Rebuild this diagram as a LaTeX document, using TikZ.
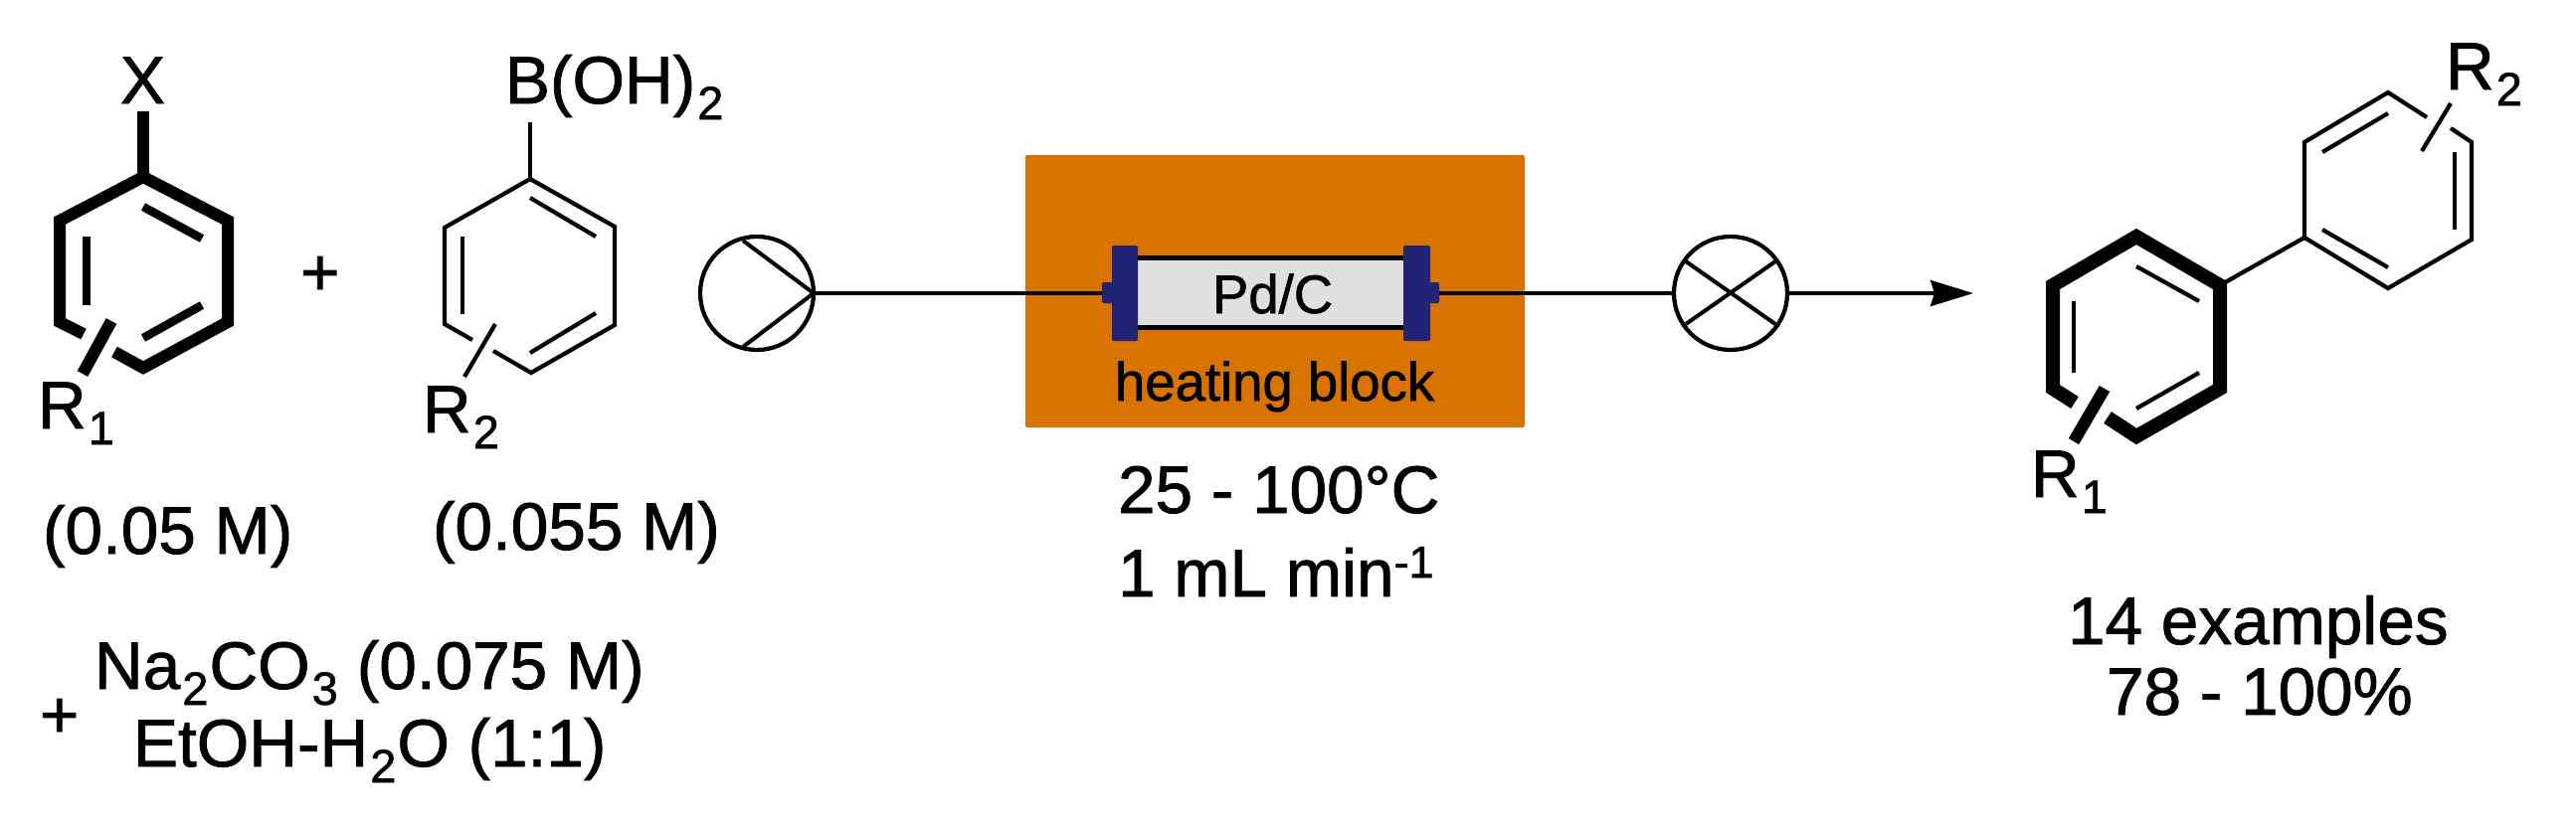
\documentclass[tikz,border=0pt]{standalone}
\usepackage{fontspec}
\setmainfont{Liberation Sans}[FakeBold=1.2]
\usetikzlibrary{arrows.meta}
\newcommand{\sbt}[1]{\kern2bp{\fontsize{47bp}{47bp}\selectfont\raisebox{-16bp}{#1}}\kern1bp}
\newcommand{\spt}[1]{{\fontsize{45bp}{45bp}\selectfont\raisebox{19bp}{#1}}}
\definecolor{blockor}{HTML}{D87300}
\definecolor{navyfl}{HTML}{232375}
\definecolor{tubegr}{HTML}{E0E0E0}
\tikzset{
  txt/.style={anchor=base west,inner sep=0pt,outer sep=0pt,font=\fontsize{67.5bp}{67.5bp}\selectfont},
  smalltxt/.style={txt,font=\fontsize{54.5bp}{54bp}\selectfont},
  thin bond/.style={line width=4.2bp,line join=miter,miter limit=10},
  bold bond/.style={line width=12bp,line join=miter,miter limit=10},
  bold inner/.style={line width=8.5bp},
  flow/.style={line width=4bp},
  unit/.style={circle,draw,line width=4.2bp,minimum size=114bp,inner sep=0pt,outer sep=0pt},
  flange/.style={fill=navyfl,rounded corners=2bp},
}
\begin{document}
\begin{tikzpicture}[x=1bp,y=-1bp]
\useasboundingbox (0,0) rectangle (2590,834);
% reactant 1
\draw[bold bond] (84,336) -- (60,324) -- (60,222) -- (144,178) -- (229,222) -- (229,324) -- (144,370) -- (115,354);
\draw[bold bond] (144,112) -- (144,178);
\draw[bold inner] (144,208) -- (203,240);
\draw[bold inner] (87,238) -- (87,307);
\draw[bold inner] (144,340) -- (203,307);
\draw[bold bond] (112,323) -- (83,376);
\node[txt] (x1) at (121,104) {X};
\node[txt] (r1a) at (38,431) {R\sbt{1}};
\node[txt] (plus1) at (302,297) {+};
% reactant 2
\draw[thin bond] (475,342) -- (447,326) -- (447,229) -- (533,180) -- (618,228) -- (618,327) -- (534,375) -- (496,353);
\draw[thin bond] (533,123) -- (533,180);
\draw[thin bond] (533,199) -- (599,238);
\draw[thin bond] (465,238) -- (465,316);
\draw[thin bond] (533,355) -- (599,315);
\draw[thin bond] (498,326) -- (467,379);
\node[txt] (boh) at (508,104) {B(OH)\sbt{2}};
\node[txt] (r2a) at (425,435) {R\sbt{2}};
\node[txt] (c1) at (43,557) {(0.05 M)};
\node[txt] (c2) at (435,553) {(0.055 M)};
\node[txt] (plus2) at (40,742) {+};
\node[txt] (na) at (95,693) {Na\sbt{2}CO\sbt{3}\kern18bp(0.075 M)};
\node[txt] (et) at (134,771) {EtOH-H\sbt{2}O (1:1)};
% heating block and reactor
\fill[blockor,rounded corners=2bp] (1031,156) rectangle (1533,430);
\fill[tubegr] (1144,260) rectangle (1411,329);
\fill[black] (1144,257) rectangle (1411,262);
\fill[black] (1144,327) rectangle (1411,332);
\fill[flange] (1118,247) rectangle (1144,343);
\fill[flange] (1411,247) rectangle (1438,343);
\fill[flange] (1108,284) rectangle (1119,305);
\fill[flange] (1437,284) rectangle (1447,305);
\coordinate (rin) at (1108,295);
\coordinate (rout) at (1447,295);
\node[smalltxt] (pd) at (1219,315) {Pd/C};
\node[smalltxt] (hb) at (1121,403) {heating block};
\node[txt] (temp) at (1124,516) {25 - 100°C};
\node[txt] (rate) at (1124,600) {1 mL min\spt{-1}};
% pump, detector, flow lines
\node[unit] (pump) at (761,295) {};
\node[unit] (det) at (1740,295) {};
\coordinate (tip) at (1984,295);
\draw[flow] (747,242) -- (pump.east) -- (747,349);
\draw[flow] (pump.east) -- (rin);
\draw[flow] (rout) -- (det.west);
\draw[flow] (1695,263) -- (1785,326);
\draw[flow] (1695,326) -- (1785,263);
\draw[flow,-{Stealth[length=43bp,width=26bp,inset=4bp]}] (det.east) -- (tip);
% product
\draw[line width=14bp,line join=miter,miter limit=10] (2086,405) -- (2064,391) -- (2064,287) -- (2148,238) -- (2232,287) -- (2232,391) -- (2148,439) -- (2119,420);
\draw[thin bond] (2148,268) -- (2211,303);
\draw[thin bond] (2085,303) -- (2085,375);
\draw[thin bond] (2148,411) -- (2211,375);
\draw[bold bond] (2116,391) -- (2085,444);
\draw[thin bond] (2232,287) -- (2317,239);
\draw[thin bond] (2440,118) -- (2401,93) -- (2317,143) -- (2317,239) -- (2401,290) -- (2485,241) -- (2485,143) -- (2464,129);
\draw[thin bond] (2335,153) -- (2401,114);
\draw[thin bond] (2468,153) -- (2468,231);
\draw[thin bond] (2335,231) -- (2401,269);
\draw[thin bond] (2464,104) -- (2435,152);
\node[txt] (r2b) at (2459,90) {R\sbt{2}};
\node[txt] (r1b) at (2042,500) {R\sbt{1}};
\node[txt] (ex) at (2079,648) {14 examples};
\node[txt] (yl) at (2118,719) {78 - 100\%};
\end{tikzpicture}
\end{document}
